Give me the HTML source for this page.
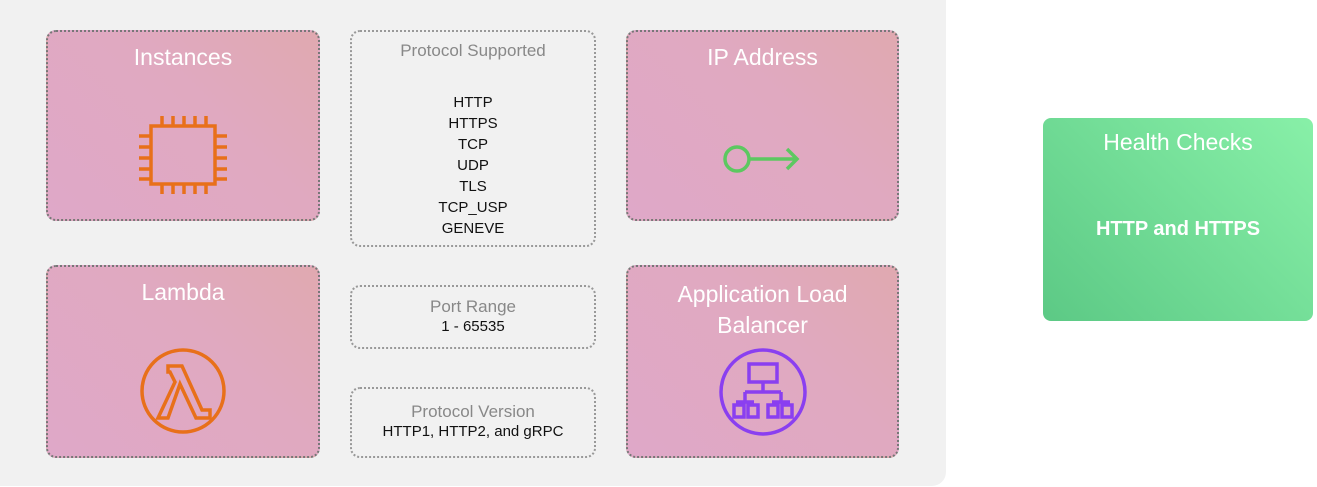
<!DOCTYPE html>
<html><head><style>
body{margin:0;width:1317px;height:487px;background:#fff;position:relative;overflow:hidden;font-family:"Liberation Sans",sans-serif}
.panel{position:absolute;left:0;top:0;width:946px;height:486px;background:#f1f1f1;border-radius:0 0 14px 0}
.pink{position:absolute;border:2px dotted #777;border-radius:10px;background:linear-gradient(225deg,#e0a9b0 0%,#e0a9c0 40%,#dfa8c8 100%);box-sizing:border-box;color:#fff;text-align:center;font-size:23px}
.dash{position:absolute;border:2px dotted #999;border-radius:10px;box-sizing:border-box;text-align:center;color:#111;font-size:15px}
.dash .t{color:#888;font-size:17px}
.green{position:absolute;left:1043px;top:118px;width:270px;height:203px;border-radius:8px;background:linear-gradient(225deg,#88f0a8,#5cc985);color:#fff;text-align:center}
</style></head><body>
<div class="panel"></div>
<div class="pink" style="left:46px;top:30px;width:274px;height:191px"><div style="margin-top:12px">Instances</div>
<svg width="90" height="80" style="margin-top:44px" viewBox="0 0 90 80" fill="none" stroke="#e8701a" stroke-width="3.5"><rect x="13" y="11" width="64" height="58"/><path d="M24 1v10M35 1v10M46 1v10M57 1v10M68 1v10M24 69v10M35 69v10M46 69v10M57 69v10M68 69v10M1 21h12M1 32h12M1 43h12M1 54h12M1 64h12M77 21h12M77 32h12M77 43h12M77 54h12M77 64h12"/></svg></div>
<div class="dash" style="left:350px;top:30px;width:246px;height:217px"><div class="t" style="margin-top:9px">Protocol Supported</div>
<div style="margin-top:31px;line-height:21px">HTTP<br>HTTPS<br>TCP<br>UDP<br>TLS<br>TCP_USP<br>GENEVE</div></div>
<div class="pink" style="left:626px;top:30px;width:273px;height:191px"><div style="margin-top:12px">IP Address</div>
<svg width="80" height="40" style="margin-top:68px" viewBox="0 0 80 40" fill="none" stroke="#5cc860" stroke-width="3.5"><circle cx="14" cy="20" r="12"/><path d="M26 20h48M64 10l10 10-10 10"/></svg></div>
<div class="pink" style="left:46px;top:265px;width:274px;height:193px"><div style="margin-top:12px">Lambda</div>
<svg width="90" height="90" style="margin-top:40px" viewBox="0 0 90 90" fill="none" stroke="#e8701a" stroke-width="3.5"><circle cx="45" cy="45" r="41"/><path d="M30 20h14l20 44h8v8H58L42 38 30 72H20l17-36-5-10h-2z"/></svg></div>
<div class="dash" style="left:350px;top:285px;width:246px;height:64px"><div class="t" style="margin-top:10px">Port Range</div><div style="margin-top:1px">1 - 65535</div></div>
<div class="dash" style="left:350px;top:387px;width:246px;height:71px"><div class="t" style="margin-top:13px">Protocol Version</div><div style="margin-top:1px">HTTP1, HTTP2, and gRPC</div></div>
<div class="pink" style="left:626px;top:265px;width:273px;height:193px"><div style="margin-top:12px;line-height:31px">Application Load<br>Balancer</div>
<svg width="90" height="90" style="margin-top:6px" viewBox="0 0 90 90" fill="none" stroke="#8a3ff0" stroke-width="3.5"><ellipse cx="45" cy="45" rx="42" ry="42"/><rect x="31" y="17" width="28" height="18"/><path d="M45 35v10M27 45h36M27 45v10M63 45v10M18 55h18M54 55h18"/><rect x="16" y="58" width="10" height="12"/><rect x="30" y="58" width="10" height="12"/><rect x="50" y="58" width="10" height="12"/><rect x="64" y="58" width="10" height="12"/></svg></div>
<div class="green"><div style="margin-top:11px;font-size:23px">Health Checks</div><div style="margin-top:62px;font-size:20px;font-weight:bold">HTTP and HTTPS</div></div>
</body></html>
